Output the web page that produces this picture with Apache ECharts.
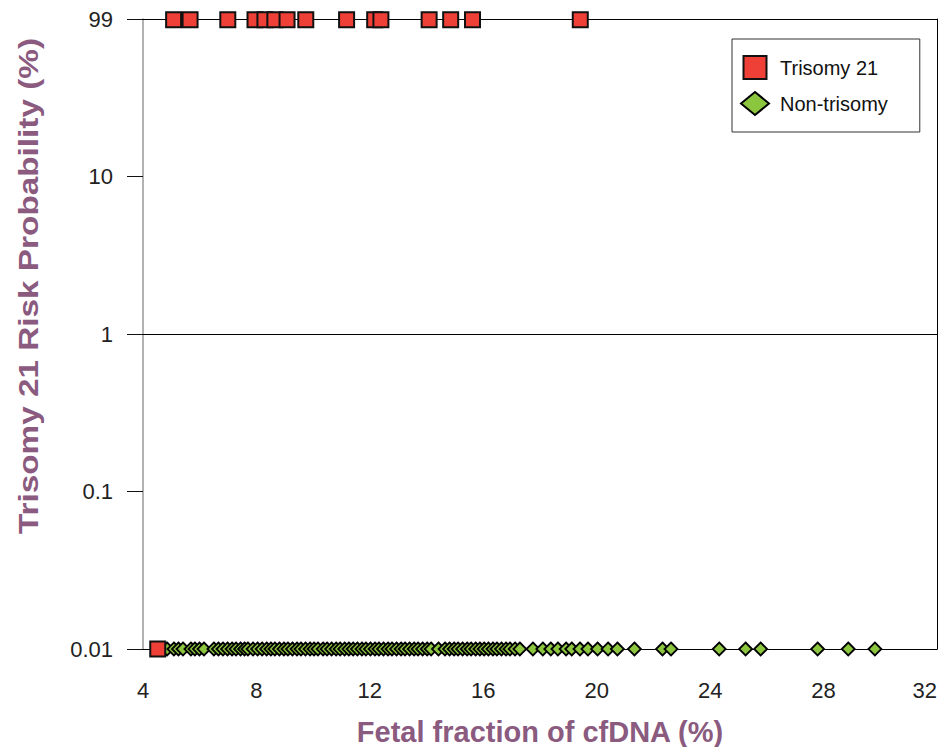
<!DOCTYPE html>
<html>
<head>
<meta charset="utf-8">
<script src="https://cdn.jsdelivr.net/npm/echarts@6/dist/echarts.min.js"></script>
<style>html,body{margin:0;padding:0;background:#fff}#c{width:940px;height:747px}</style>
</head>
<body>
<div id="c"></div>
<script>
// ---- data ----
const xTickValues = [4, 8, 12, 16, 20, 24, 28, 32];
const yTickValues = [0.01, 0.1, 1, 10, 100];
const yTickLabels = ['0.01', '0.1', '1', '10', '99'];

const trisomyX = [4.52, 5.08, 5.66, 6.99, 7.95, 8.30, 8.65, 9.08, 9.74, 11.18, 12.17, 12.39, 14.09, 14.85, 15.62, 19.42];
const trisomyY = [0.01, 99, 99, 99, 99, 99, 99, 99, 99, 99, 99, 99, 99, 99, 99, 99];

const nonTrisomyX = [
  4.85, 5.09, 5.25, 5.41, 5.69, 5.83, 5.99, 6.15, 6.50, 6.66, 6.82, 6.98, 7.14, 7.28, 7.44, 7.58,
  7.70, 7.88, 8.04, 8.20, 8.36, 8.51, 8.65, 8.81, 8.97, 9.11, 9.27, 9.43, 9.57, 9.73, 9.89, 10.03,
  10.17, 10.35, 10.49, 10.65, 10.81, 10.95, 11.11, 11.26, 11.41, 11.56, 11.72, 11.86, 12.02, 12.18,
  12.32, 12.48, 12.64, 12.78, 12.94, 13.10, 13.24, 13.40, 13.56, 13.70, 13.86, 14.02, 14.16, 14.42,
  14.65, 14.81, 14.97, 15.11, 15.27, 15.43, 15.57, 15.73, 15.88, 16.03, 16.18, 16.34, 16.48, 16.64,
  16.80, 16.94, 17.12, 17.29, 17.75, 18.10, 18.38, 18.63, 18.92, 19.12, 19.41, 19.69, 20.03, 20.40,
  20.73, 21.33, 22.32, 22.62, 24.32, 25.25, 25.78, 27.79, 28.87, 29.81
];
const nonTrisomyY = nonTrisomyX.map(() => 0.01);

const seriesNames = ['Trisomy 21', 'Non-trisomy'];
const xTitle = 'Fetal fraction of cfDNA (%)';
const yTitle = 'Trisomy 21 Risk Probability (%)';

// ---- chart ----
const FONT = '"Liberation Sans", Arial, Helvetica, sans-serif';
const TITLE_COLOR = '#8a5a7f';
const chart = echarts.init(document.getElementById('c'), null, { renderer: 'svg' });

function pairs(xs, ys) { return xs.map((x, i) => [x, ys[i]]); }
function yLabel(v) {
  for (let i = 0; i < yTickValues.length; i++) {
    if (Math.abs(Math.log10(v) - Math.log10(yTickValues[i])) < 1e-6) return yTickLabels[i];
  }
  return '';
}

chart.setOption({
  animation: false,
  backgroundColor: '#fff',
  grid: { left: 143, right: 3, top: 19, bottom: 98, containLabel: false, outerBoundsMode: 'none' },
  graphic: [{
    type: 'text',
    x: 28, y: 286,
    rotation: Math.PI / 2,
    scaleX: 1.19,
    silent: true,
    style: {
      text: yTitle,
      fontFamily: FONT, fontSize: 28, fontWeight: 'bold',
      fill: TITLE_COLOR,
      align: 'center', verticalAlign: 'middle'
    }
  }],
  legend: {
    orient: 'vertical',
    left: 732, top: 39,
    padding: [16, 32, 16, 8],
    itemGap: 11,
    itemWidth: 28, itemHeight: 23,
    symbolKeepAspect: true,
    borderColor: '#333', borderWidth: 1,
    backgroundColor: '#fff',
    textStyle: { fontFamily: FONT, fontSize: 20, color: '#111', padding: [0, 0, 0, 6] },
    data: [
      { name: seriesNames[0], icon: 'path://M0 0H10V10H0Z' },
      { name: seriesNames[1], icon: 'diamond' }
    ]
  },
  xAxis: [{
    type: 'value', min: 4, max: 32, interval: 4,
    axisLine: { show: true, onZero: false, lineStyle: { color: '#000', width: 1 } },
    axisTick: { show: false },
    splitLine: { show: false },
    axisLabel: { margin: 30, fontFamily: FONT, fontSize: 22, color: '#222',
      alignMaxLabel: 'right',
      formatter: v => (xTickValues.indexOf(v) >= 0 ? String(v) : '') },
    name: xTitle, nameLocation: 'middle', nameGap: 68,
    nameTextStyle: { fontFamily: FONT, fontSize: 29, fontWeight: 'bold', color: TITLE_COLOR }
  }, {
    type: 'value', min: 4, max: 32, interval: 4, position: 'top',
    axisLine: { show: true, onZero: false, lineStyle: { color: '#000', width: 1 } },
    axisTick: { show: false }, axisLabel: { show: false }, splitLine: { show: false }
  }],
  yAxis: [{
    type: 'log', logBase: 10, min: 0.01, max: 100,
    axisLine: { show: true, onZero: false, lineStyle: { color: '#999', width: 1.5 } },
    axisTick: { show: true, inside: false, length: 16, lineStyle: { color: '#111', width: 1 } },
    splitLine: { show: false },
    axisLabel: { margin: 30, fontFamily: FONT, fontSize: 22, color: '#222', formatter: yLabel }
  }, {
    type: 'log', logBase: 10, min: 0.01, max: 100, position: 'right',
    axisLine: { show: true, onZero: false, lineStyle: { color: '#000', width: 1 } },
    axisTick: { show: false }, axisLabel: { show: false }, splitLine: { show: false }
  }],
  series: [{
    name: seriesNames[1], type: 'scatter', xAxisIndex: 0, yAxisIndex: 0,
    symbol: 'diamond', symbolSize: [13, 13],
    itemStyle: { color: '#8cc63f', borderColor: '#000', borderWidth: 1.8, opacity: 1 },
    data: pairs(nonTrisomyX, nonTrisomyY),
    z: 3,
    markLine: {
      silent: true, symbol: ['none', 'none'], label: { show: false },
      lineStyle: { color: '#000', width: 1, type: 'solid' },
      data: [{ yAxis: 1 }]
    }
  }, {
    name: seriesNames[0], type: 'scatter', xAxisIndex: 0, yAxisIndex: 0,
    symbol: 'rect', symbolSize: 15,
    itemStyle: { color: '#ee4036', borderColor: '#111', borderWidth: 2, opacity: 1 },
    data: pairs(trisomyX, trisomyY),
    z: 4
  }]
});
</script>
</body>
</html>
